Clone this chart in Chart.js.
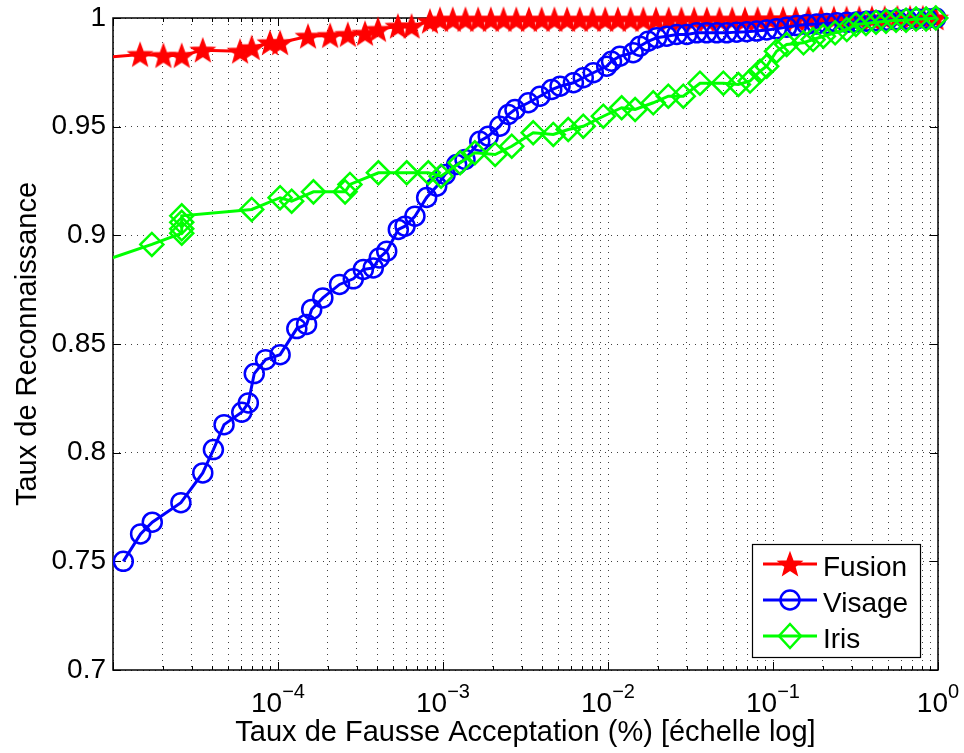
<!DOCTYPE html>
<html>
<head>
<meta charset="utf-8">
<title>Taux de Reconnaissance</title>
<script src="https://cdn.jsdelivr.net/npm/chart.js@4.4.1/dist/chart.umd.min.js"></script>
<style>
  html, body { margin: 0; padding: 0; background: #fff; }
  #wrap { width: 964px; height: 753px; }
</style>
</head>
<body>
<div id="wrap"><canvas id="roc" width="964" height="753"></canvas></div>
<script>
/* ── Data ─────────────────────────────────────────────── */
const fusionX = [8e-6, 1.46e-5, 2.02e-5, 2.61e-5, 3.50e-5, 5.89e-5, 6.93e-5, 8.94e-5, 1.03e-4,
  1.52e-4, 2.07e-4, 2.65e-4, 3.37e-4, 4.04e-4, 5.33e-4, 6.45e-4, 8.34e-4, 9.59e-4,
  1.146e-3, 1.368e-3, 1.633e-3, 1.950e-3, 2.328e-3, 2.780e-3, 3.319e-3, 3.963e-3, 4.732e-3,
  5.649e-3, 6.745e-3, 8.054e-3, 9.616e-3, 1.148e-2, 1.371e-2, 1.637e-2, 1.954e-2, 2.333e-2,
  2.786e-2, 3.327e-2, 3.972e-2, 4.742e-2, 5.662e-2, 6.761e-2, 8.072e-2, 9.638e-2, 0.1151,
  0.1374, 0.1641, 0.1959, 0.2339, 0.2793, 0.3334, 0.3981, 0.4753, 0.5675, 0.6776, 0.8091, 0.9661];
const fusionY = [0.9816, 0.9832, 0.9827, 0.9827, 0.9852, 0.9847, 0.9863, 0.9886, 0.9886,
  0.9916, 0.9919, 0.9924, 0.9929, 0.9947, 0.9962, 0.9962, 0.9985, 0.9993,
  0.9993, 0.9993, 0.9993, 0.9993, 0.9993, 0.9993, 0.9993, 0.9993, 0.9993,
  0.9993, 0.9993, 0.9993, 0.9993, 0.9993, 0.9993, 0.9993, 0.9993, 0.9993,
  0.9993, 0.9993, 0.9993, 0.9993, 0.9993, 0.9993, 0.9994, 0.9994, 0.9995,
  0.9995, 0.9996, 0.9996, 0.9997, 0.9997, 0.9998, 0.9998, 0.9999, 1.0, 1.0, 1.0, 1.0];

const visageX = [1.155e-5, 1.47e-5, 1.73e-5, 2.58e-5, 3.50e-5, 4.06e-5, 4.71e-5, 6.03e-5, 6.61e-5,
  7.18e-5, 8.41e-5, 1.03e-4, 1.30e-4, 1.49e-4, 1.60e-4, 1.87e-4, 2.36e-4, 2.86e-4, 3.29e-4,
  3.78e-4, 4.11e-4, 4.56e-4, 5.36e-4, 5.89e-4, 6.76e-4, 7.96e-4, 9.16e-4, 1.03e-3, 1.21e-3,
  1.36e-3, 1.67e-3, 1.88e-3, 2.21e-3, 2.49e-3, 2.73e-3, 3.29e-3, 3.87e-3, 4.56e-3, 5.12e-3,
  6.17e-3, 7.08e-3, 8.15e-3, 9.82e-3, 1.05e-2, 1.18e-2, 1.42e-2, 1.56e-2, 1.75e-2, 1.97e-2,
  2.27e-2, 2.61e-2, 3.00e-2, 3.45e-2, 3.96e-2, 4.56e-2, 5.24e-2, 6.02e-2, 6.93e-2, 7.96e-2,
  9.16e-2, 0.105, 0.121, 0.139, 0.160, 0.184, 0.212, 0.243, 0.280, 0.321, 0.370, 0.425,
  0.489, 0.562, 0.646, 0.743, 0.854, 0.97];
const visageY = [0.750, 0.7626, 0.768, 0.777, 0.7907, 0.8014, 0.8129, 0.8186, 0.8229,
  0.8364, 0.8428, 0.8451, 0.8571, 0.859, 0.8659, 0.8712, 0.8774, 0.880, 0.8843,
  0.885, 0.8896, 0.8927, 0.9027, 0.9042, 0.9088, 0.9174, 0.9226, 0.928, 0.9326,
  0.9349, 0.9433, 0.9456, 0.9502, 0.9556, 0.9579, 0.961, 0.964, 0.9671, 0.9686,
  0.9702, 0.9725, 0.9748, 0.9778, 0.9801, 0.9824, 0.984, 0.987, 0.9893, 0.9909,
  0.9916, 0.9924, 0.9924, 0.9932, 0.9932, 0.9932, 0.9932, 0.9935, 0.9937, 0.994,
  0.9945, 0.995, 0.9958, 0.9965, 0.997, 0.9972, 0.9975, 0.9978, 0.998, 0.9982, 0.9985, 0.9987,
  0.999, 0.9992, 0.9994, 0.9996, 0.9998, 1.0];

const irisX = [8e-6, 1.72e-5, 2.61e-5, 2.61e-5, 2.61e-5, 2.61e-5, 6.93e-5, 1.03e-4, 1.21e-4,
  1.64e-4, 2.55e-4, 2.73e-4, 4.06e-4, 6.03e-4, 8.15e-4, 9.73e-4, 1.27e-3, 1.56e-3, 2.07e-3,
  2.61e-3, 3.52e-3, 4.66e-3, 5.74e-3, 7.08e-3, 9.37e-3, 1.21e-2, 1.46e-2, 1.88e-2, 2.32e-2,
  2.86e-2, 3.61e-2, 5.00e-2, 6.17e-2, 7.26e-2, 8.34e-2, 9.16e-2, 0.105, 0.121, 0.153,
  0.175, 0.202, 0.238, 0.280, 0.318, 0.366, 0.421, 0.484, 0.557, 0.640, 0.736, 0.847, 0.97];
const irisY = [0.8872, 0.8958, 0.901, 0.903, 0.906, 0.909, 0.9119, 0.9173, 0.9157,
  0.920, 0.920, 0.9234, 0.9288, 0.9288, 0.9288, 0.9272, 0.9334, 0.938, 0.9372,
  0.941, 0.9472, 0.9464, 0.9487, 0.9502, 0.9548, 0.9587, 0.9579, 0.961, 0.964,
  0.964, 0.970, 0.970, 0.9694, 0.971, 0.9755, 0.9778, 0.9847, 0.9878, 0.9886,
  0.9901, 0.9916, 0.9932, 0.9947, 0.997, 0.9975, 0.998, 0.9985, 0.999, 0.999, 0.9995, 0.9995, 1.0];

const seriesNames = ['Fusion', 'Visage', 'Iris'];
const seriesColors = ['#ff0000', '#0000ff', '#00ff00'];

const xDecades = [-5, -4, -3, -2, -1, 0];      // 10^k on the log axis
const xLabelExps = [-4, -3, -2, -1, 0];        // decades that carry a label
const xMinorSteps = [2, 3, 4, 5, 6, 7, 8, 9];
const yTickValues = [0.7, 0.75, 0.8, 0.85, 0.9, 0.95, 1];

const FONT = '"Liberation Sans", Arial, Helvetica, sans-serif';

/* ── Marker helpers ───────────────────────────────────── */
function makeStar(color, R) {
  const c = document.createElement('canvas');
  const s = Math.ceil(R * 2 + 4);
  c.width = s; c.height = s;
  const g = c.getContext('2d');
  const r = R * 0.42;
  g.beginPath();
  for (let i = 0; i < 10; i++) {
    const a = -Math.PI / 2 + i * Math.PI / 5;
    const rr = i % 2 ? r : R;
    g.lineTo(s / 2 + rr * Math.cos(a), s / 2 + 1 + rr * Math.sin(a));
  }
  g.closePath();
  g.fillStyle = color;
  g.fill();
  g.lineWidth = 1.5;
  g.strokeStyle = color;
  g.stroke();
  return c;
}
const starImg = makeStar('#ff0000', 12);

function toPoints(xs, ys) {
  return xs.map((x, i) => ({ x: x, y: ys[i] }));
}

// x ticks: decades + 2..9 minors
const xTicks = [];
xDecades.forEach(k => {
  xTicks.push({ value: Math.pow(10, k), major: true });
  if (k < 0) xMinorSteps.forEach(m => xTicks.push({ value: m * Math.pow(10, k), major: false }));
});
xTicks.sort((a, b) => a.value - b.value);

/* ── Plugin: MATLAB-like box, inner ticks, labels, legend ─ */
const matlabAxes = {
  id: 'matlabAxes',
  beforeDatasetsDraw(chart) {
    const { ctx, chartArea: a, scales: { x, y } } = chart;
    ctx.save();
    ctx.strokeStyle = '#000';
    ctx.lineWidth = 1;
    ctx.beginPath();
    xTicks.forEach(t => {
      const px = Math.round(x.getPixelForValue(t.value)) + 0.5;
      const len = t.major ? 8 : 4;
      ctx.moveTo(px, a.bottom); ctx.lineTo(px, a.bottom - len);
      ctx.moveTo(px, a.top); ctx.lineTo(px, a.top + len);
    });
    yTickValues.forEach(v => {
      const py = Math.round(y.getPixelForValue(v)) + 0.5;
      ctx.moveTo(a.left, py); ctx.lineTo(a.left + 8, py);
      ctx.moveTo(a.right, py); ctx.lineTo(a.right - 8, py);
    });
    ctx.stroke();
    ctx.lineWidth = 1.5;
    ctx.strokeRect(a.left, a.top, a.right - a.left, a.bottom - a.top);
    ctx.restore();
  },
  afterDraw(chart) {
    const { ctx, chartArea: a, scales: { x } } = chart;
    ctx.save();
    ctx.fillStyle = '#000';

    // x tick labels 10^k
    const big = `28px ${FONT}`, small = `20px ${FONT}`;
    ctx.textBaseline = 'alphabetic';
    ctx.textAlign = 'left';
    xLabelExps.forEach(k => {
      const px = x.getPixelForValue(Math.pow(10, k));
      const sup = k < 0 ? '\u2212' + (-k) : String(k);
      ctx.font = big; const wb = ctx.measureText('10').width;
      ctx.font = small; const ws = ctx.measureText(sup).width;
      const left = px - (wb + ws) / 2;
      ctx.font = big; ctx.fillText('10', left, 712);
      ctx.font = small; ctx.fillText(sup, left + wb, 698);
    });

    // axis titles
    ctx.font = `29px ${FONT}`;
    ctx.textAlign = 'center';
    ctx.fillText('Taux de Fausse Acceptation (%) [échelle log]', (a.left + a.right) / 2, 741);
    ctx.save();
    ctx.translate(36, (a.top + a.bottom) / 2);
    ctx.rotate(-Math.PI / 2);
    ctx.fillText('Taux de Reconnaissance', 0, 0);
    ctx.restore();

    // legend box
    const bx = 752.5, by = 544.5, bw = 168, bh = 113;
    ctx.fillStyle = '#fff';
    ctx.fillRect(bx, by, bw, bh);
    ctx.strokeStyle = '#000';
    ctx.lineWidth = 1.2;
    ctx.strokeRect(bx, by, bw, bh);
    const rows = [564, 600, 636];
    ctx.font = `28px ${FONT}`;
    ctx.textAlign = 'left';
    seriesNames.forEach((name, i) => {
      const ry = rows[i], col = seriesColors[i];
      ctx.strokeStyle = col;
      ctx.lineWidth = 3;
      ctx.beginPath(); ctx.moveTo(763, ry); ctx.lineTo(817, ry); ctx.stroke();
      ctx.lineWidth = 2.5;
      if (i === 0) {
        ctx.drawImage(starImg, 790 - starImg.width / 2, ry - starImg.height / 2);
      } else if (i === 1) {
        ctx.beginPath(); ctx.arc(790, ry, 9.5, 0, Math.PI * 2); ctx.stroke();
      } else {
        ctx.beginPath();
        ctx.moveTo(790, ry - 12); ctx.lineTo(801, ry); ctx.lineTo(790, ry + 12); ctx.lineTo(779, ry);
        ctx.closePath(); ctx.stroke();
      }
      ctx.fillStyle = '#000';
      ctx.fillText(name, 823, ry + 11.5);
    });
    ctx.restore();
  }
};

/* ── Chart ────────────────────────────────────────────── */
const clipBox = { left: 0, top: 14, right: 14, bottom: 0 };

new Chart(document.getElementById('roc'), {
  type: 'line',
  data: {
    datasets: [
      {
        label: seriesNames[0],
        data: toPoints(fusionX, fusionY),
        borderColor: seriesColors[0],
        borderWidth: 3,
        pointStyle: starImg,
        pointRadius: 12,
        pointBackgroundColor: seriesColors[0],
        pointBorderColor: seriesColors[0],
        tension: 0,
        clip: clipBox,
        order: 3
      },
      {
        label: seriesNames[1],
        data: toPoints(visageX, visageY),
        borderColor: seriesColors[1],
        borderWidth: 3,
        pointStyle: 'circle',
        pointRadius: 9.5,
        pointBorderWidth: 2.5,
        pointBackgroundColor: 'rgba(0,0,0,0)',
        pointBorderColor: seriesColors[1],
        tension: 0,
        clip: clipBox,
        order: 2
      },
      {
        label: seriesNames[2],
        data: toPoints(irisX, irisY),
        borderColor: seriesColors[2],
        borderWidth: 3,
        pointStyle: 'rectRot',
        pointRadius: 11.5,
        pointBorderWidth: 2.5,
        pointBackgroundColor: 'rgba(0,0,0,0)',
        pointBorderColor: seriesColors[2],
        tension: 0,
        clip: clipBox,
        order: 1
      }
    ]
  },
  options: {
    responsive: false,
    animation: false,
    events: [],
    layout: { padding: { top: 18, right: 26, left: 0, bottom: 0 } },
    plugins: { legend: { display: false }, tooltip: { enabled: false } },
    scales: {
      x: {
        type: 'logarithmic',
        min: 1e-5,
        max: 1,
        afterBuildTicks: s => { s.ticks = xTicks.map(t => ({ value: t.value, major: t.major })); },
        afterFit: s => { s.height = 83; s.paddingLeft = 0; s.paddingRight = 0; },
        ticks: { display: false },
        grid: { color: 'rgba(0,0,0,0.75)', lineWidth: 1, drawTicks: false },
        border: { display: false, dash: [1, 5] }
      },
      y: {
        min: 0.7,
        max: 1,
        afterBuildTicks: s => { s.ticks = yTickValues.map(v => ({ value: v })); },
        afterFit: s => { s.width = 113; s.paddingTop = 0; s.paddingBottom = 0; },
        ticks: {
          padding: 7,
          color: '#000',
          font: { family: FONT, size: 28 },
          callback: v => String(+Number(v).toFixed(2))
        },
        grid: { color: 'rgba(0,0,0,0.75)', lineWidth: 1, drawTicks: false },
        border: { display: false, dash: [1, 5] }
      }
    }
  },
  plugins: [matlabAxes]
});
</script>
</body>
</html>
